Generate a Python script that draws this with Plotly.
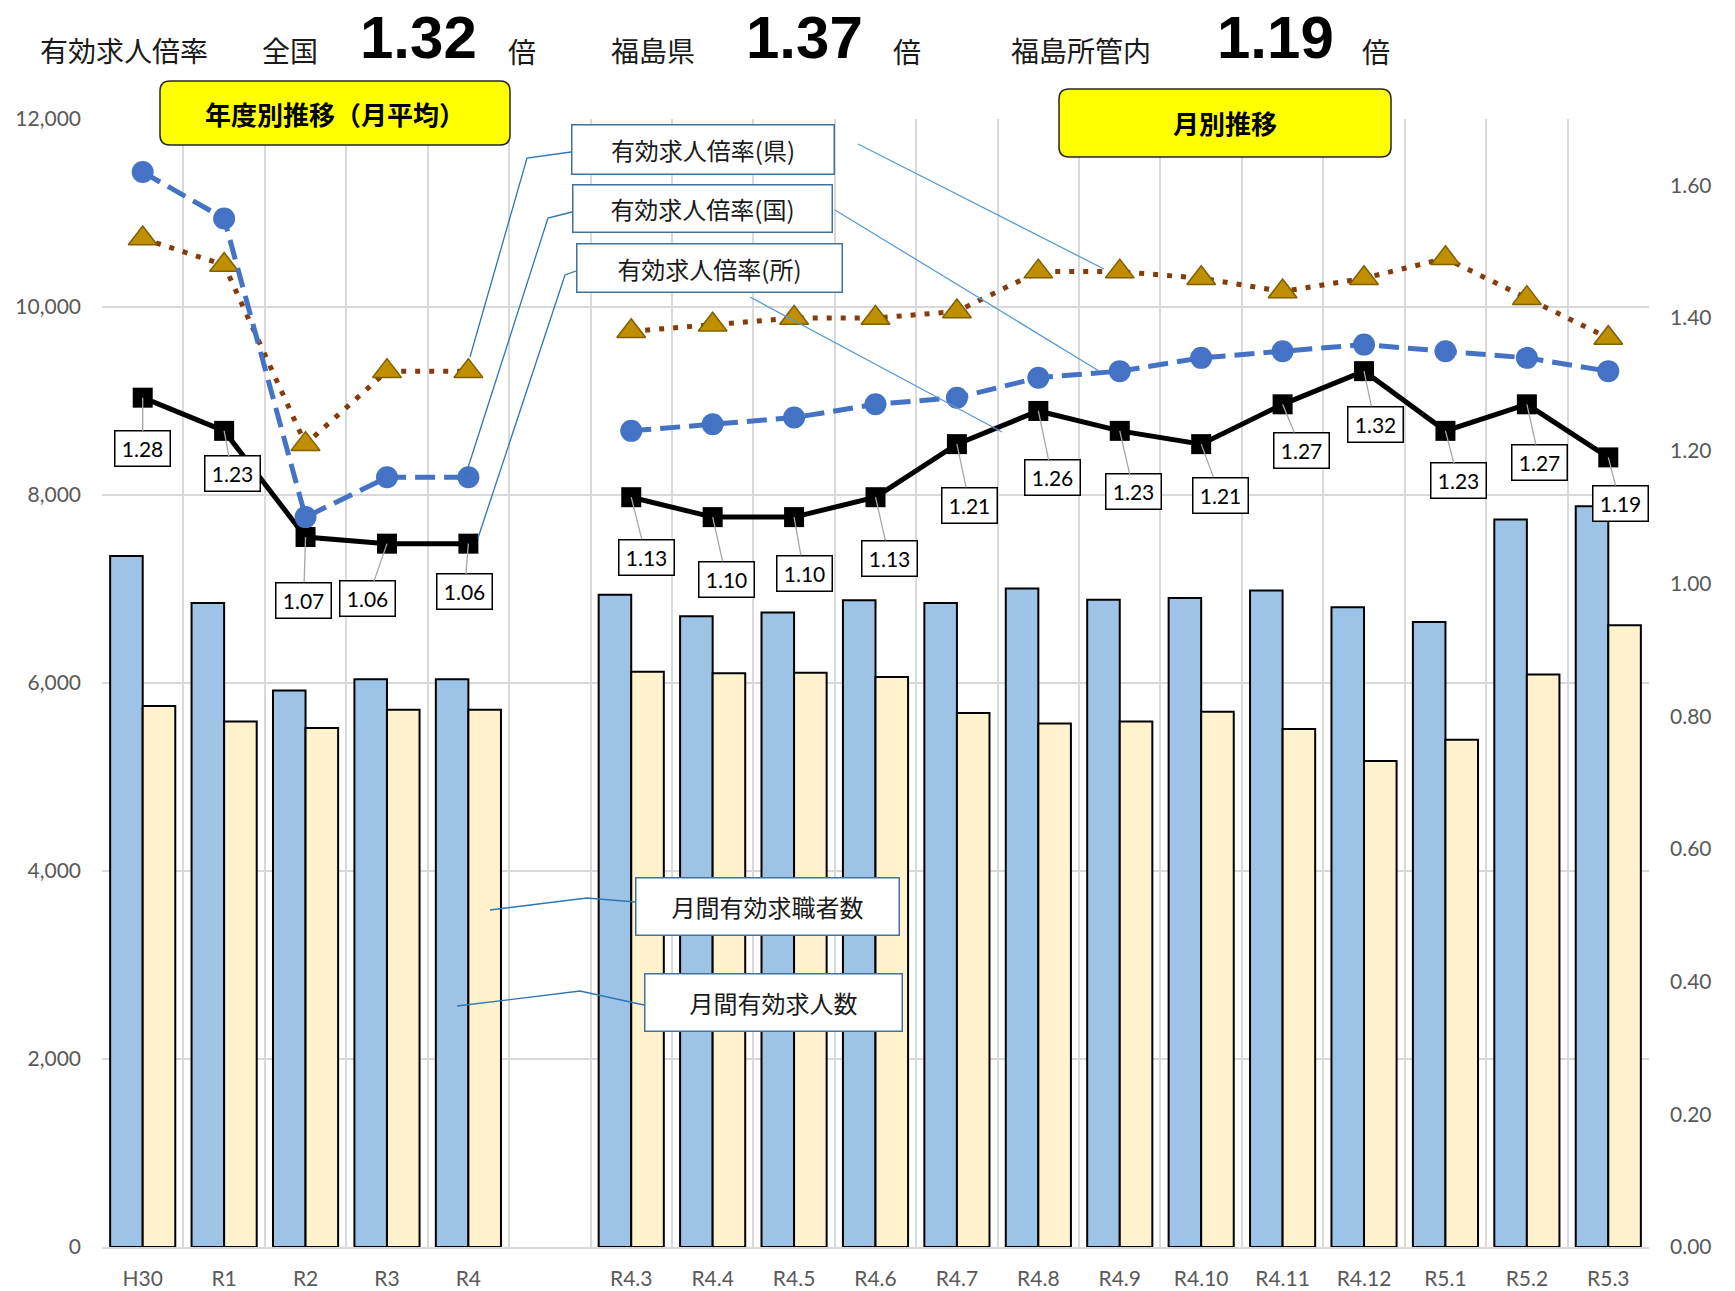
import plotly.graph_objects as go

# ---------------- data ----------------
categories = ["H30", "R1", "R2", "R3", "R4", " ",
              "R4.3", "R4.4", "R4.5", "R4.6", "R4.7", "R4.8", "R4.9",
              "R4.10", "R4.11", "R4.12", "R5.1", "R5.2", "R5.3"]
job_openings = [7350, 6850, 5920, 6040, 6040, None,
                6940, 6710, 6750, 6880, 6850, 7005, 6885,
                6905, 6985, 6805, 6650, 7740, 7880]
job_seekers = [5755, 5590, 5520, 5715, 5715, None,
               6120, 6105, 6110, 6065, 5680, 5570, 5590,
               5695, 5510, 5170, 5395, 6090, 6615]
ratio_office = [1.28, 1.23, 1.07, 1.06, 1.06, None,
                1.13, 1.10, 1.10, 1.13, 1.21, 1.26, 1.23,
                1.21, 1.27, 1.32, 1.23, 1.27, 1.19]
ratio_national = [1.62, 1.55, 1.10, 1.16, 1.16, None,
                  1.23, 1.24, 1.25, 1.27, 1.28, 1.31, 1.32,
                  1.34, 1.35, 1.36, 1.35, 1.34, 1.32]
ratio_pref = [1.52, 1.48, 1.21, 1.32, 1.32, None,
              1.38, 1.39, 1.40, 1.40, 1.41, 1.47, 1.47,
              1.46, 1.44, 1.46, 1.49, 1.43, 1.37]
left_ticks = [0, 2000, 4000, 6000, 8000, 10000, 12000]
right_ticks = [0.0, 0.2, 0.4, 0.6, 0.8, 1.0, 1.2, 1.4, 1.6]

header_national = "1.32"
header_pref = "1.37"
header_office = "1.19"

# ---------------- layout helpers (page pixel coordinates) ----------------
W, H = 1735, 1291
L, R, T, B = 102, 1649, 119, 1247


def px(x):
    return (x - L) / (R - L)


def py(y):
    return (B - y) / (B - T)


JP = "Noto Sans CJK JP"
NUM = "Lato, Noto Sans CJK JP"
BIG = "Liberation Sans, Arial, sans-serif"
TICK_COLOR = "#595959"

fig = go.Figure()

fig.add_trace(go.Bar(
    x=categories, y=job_openings, name="月間有効求人数",
    marker=dict(color="#9DC3E6", line=dict(color="#000000", width=2)),
    yaxis="y",
))
fig.add_trace(go.Bar(
    x=categories, y=job_seekers, name="月間有効求職者数",
    marker=dict(color="#FFF2CC", line=dict(color="#000000", width=2)),
    yaxis="y",
))
fig.add_trace(go.Scatter(
    x=categories, y=ratio_office, name="有効求人倍率(所)", yaxis="y2",
    mode="lines+markers", connectgaps=False,
    line=dict(color="#000000", width=5),
    marker=dict(symbol="square", size=20, color="#000000"),
))
fig.add_trace(go.Scatter(
    x=categories, y=ratio_pref, name="有効求人倍率(県)", yaxis="y2",
    mode="lines+markers", connectgaps=False,
    line=dict(color="#843C0C", width=5, dash="5px,9px"),
    marker=dict(symbol="triangle-up", size=25, color="#BF8F00",
                line=dict(color="#7F6000", width=1.5)),
))
fig.add_trace(go.Scatter(
    x=categories, y=ratio_national, name="有効求人倍率(国)", yaxis="y2",
    mode="lines+markers", connectgaps=False,
    line=dict(color="#4472C4", width=5, dash="20px,9px"),
    marker=dict(symbol="circle", size=22, color="#4472C4"),
))

annotations = []
shapes = []

# data labels of the office ratio
LABEL_OFFSETS = [(0, 51), (8, 43), (-2, 63), (-19, 55), (-4, 48), None,
                 (15, 60), (14, 62), (10, 56), (14, 61), (13, 61), (14, 67), (14, 61),
                 (19, 51), (19, 46), (11, 53), (13, 50), (13, 58), (12, 46)]
for cat, v, off in zip(categories, ratio_office, LABEL_OFFSETS):
    if v is None:
        continue
    annotations.append(dict(
        x=cat, y=v, xref="x", yref="y2", text=f"{v:.2f}",
        showarrow=True, arrowhead=0, arrowwidth=1.3, arrowcolor="#A6A6A6",
        ax=off[0], ay=off[1], standoff=0, startstandoff=0,
        width=54, height=34, borderpad=0,
        bgcolor="#FFFFFF", bordercolor="#000000", borderwidth=1.5,
        font=dict(family=NUM, size=21, color="#000000"),
    ))


# header
def header(text, xc, yc, size, family=JP, bold=False, color="#1a1a1a", height=None):
    a = dict(
        x=px(xc), y=py(yc), xref="paper", yref="paper", showarrow=False,
        text=f"<b>{text}</b>" if bold else text,
        xanchor="center", yanchor="middle",
        font=dict(family=family, size=size, color=color),
    )
    if height:
        a["height"] = height
    annotations.append(a)


header("有効求人倍率", 124, 50, 28)
header("全国", 290, 50, 28)
header(header_national, 418, 37, 60, family=BIG, bold=True, color="#000000", height=52)
header("倍", 522, 51, 28)
header("福島県", 653, 50, 28)
header(header_pref, 804, 37, 60, family=BIG, bold=True, color="#000000", height=52)
header("倍", 907, 51, 28)
header("福島所管内", 1081, 50, 28)
header(header_office, 1275, 37, 60, family=BIG, bold=True, color="#000000", height=52)
header("倍", 1376, 51, 28)


def rrect(x0, y0, x1, y1, r):
    pts = [
        ("M", [(x0 + r, y0)]),
        ("L", [(x1 - r, y0)]), ("Q", [(x1, y0), (x1, y0 + r)]),
        ("L", [(x1, y1 - r)]), ("Q", [(x1, y1), (x1 - r, y1)]),
        ("L", [(x0 + r, y1)]), ("Q", [(x0, y1), (x0, y1 - r)]),
        ("L", [(x0, y0 + r)]), ("Q", [(x0, y0), (x0 + r, y0)]),
    ]
    s = ""
    for cmd, ps in pts:
        s += cmd + " " + " ".join(f"{px(a):.5f},{py(b):.5f}" for a, b in ps) + " "
    return s + "Z"


# yellow title boxes
for (x0, y0, x1, y1, txt) in [(160, 81, 510, 145, "年度別推移（月平均）"),
                              (1059, 89, 1391, 157, "月別推移")]:
    shapes.append(dict(type="path", xref="paper", yref="paper",
                       path=rrect(x0, y0, x1, y1, 10),
                       fillcolor="#FFFF00", line=dict(color="#262626", width=1.5)))
    annotations.append(dict(x=px((x0 + x1) / 2), y=py((y0 + y1) / 2), xref="paper", yref="paper",
                            showarrow=False, text=f"<b>{txt}</b>",
                            xanchor="center", yanchor="middle",
                            font=dict(family=JP, size=26, color="#000000")))


def polyline(points, color, width=1.3):
    d = "M " + " L ".join(f"{px(a):.5f},{py(b):.5f}" for a, b in points)
    shapes.append(dict(type="path", xref="paper", yref="paper", path=d,
                       line=dict(color=color, width=width)))


LINE_DARK = "#2E75B6"
LINE_LIGHT = "#5B9BD5"
polyline([(571, 152), (527, 158), (470, 357)], LINE_DARK)
polyline([(858, 144), (1104, 269)], LINE_LIGHT)
polyline([(572, 212), (548, 218), (465, 477)], LINE_DARK)
polyline([(835, 210), (1099, 371)], LINE_LIGHT)
polyline([(576, 271), (565, 275), (478, 538)], LINE_DARK)
polyline([(750, 297), (1002, 432)], LINE_LIGHT)
polyline([(635, 902), (587, 898), (490, 910)], LINE_DARK)
polyline([(644, 1005), (580, 991), (457, 1006)], LINE_DARK)

# callout boxes
for (x0, y0, x1, y1, txt) in [(571, 124, 835, 175, "有効求人倍率(県)"),
                              (572, 184, 833, 233, "有効求人倍率(国)"),
                              (576, 243, 843, 293, "有効求人倍率(所)"),
                              (635, 877, 900, 936, "月間有効求職者数"),
                              (644, 973, 903, 1032, "月間有効求人数")]:
    annotations.append(dict(
        x=px((x0 + x1) / 2), y=py((y0 + y1) / 2), xref="paper", yref="paper",
        showarrow=False, text=txt, xanchor="center", yanchor="middle",
        width=x1 - x0 - 3, height=y1 - y0 - 3, borderpad=0,
        bgcolor="#FFFFFF", bordercolor="#41719C", borderwidth=1.5,
        font=dict(family=JP, size=24, color="#1a1a1a"),
    ))

fig.update_layout(
    width=W, height=H,
    margin=dict(l=L, r=W - R, t=T, b=H - B, pad=0, autoexpand=False),
    paper_bgcolor="#FFFFFF", plot_bgcolor="#FFFFFF",
    showlegend=False,
    barmode="group", bargap=0.2, bargroupgap=0,
    font=dict(family=NUM, size=21, color=TICK_COLOR),
    xaxis=dict(
        type="category", categoryorder="array", categoryarray=categories,
        tickson="boundaries", showgrid=True, gridcolor="#D9D9D9", gridwidth=2,
        showline=True, linecolor="#D9D9D9", linewidth=2,
        ticks="", tickfont=dict(family=NUM, size=21, color=TICK_COLOR),
        ticklabelstandoff=12, automargin=False,
        range=[-0.5, len(categories) - 0.5],
    ),
    yaxis=dict(
        range=[0, 12000], tickvals=left_ticks, tickformat=",d",
        showgrid=True, gridcolor="#D9D9D9", gridwidth=2,
        zeroline=False, showline=False, ticks="",
        tickfont=dict(family=NUM, size=21, color=TICK_COLOR),
        ticklabelstandoff=20, automargin=False,
    ),
    yaxis2=dict(
        range=[0, 1.7], tickvals=right_ticks, tickformat=".2f",
        overlaying="y", side="right", showgrid=False, zeroline=False,
        showline=False, ticks="",
        tickfont=dict(family=NUM, size=21, color=TICK_COLOR),
        ticklabelstandoff=20, automargin=False,
    ),
    annotations=annotations,
    shapes=shapes,
)

fig.write_html("out.html",
               config={"displayModeBar": False},
               post_script="document.body.style.margin='0px';document.body.style.overflow='hidden';")
